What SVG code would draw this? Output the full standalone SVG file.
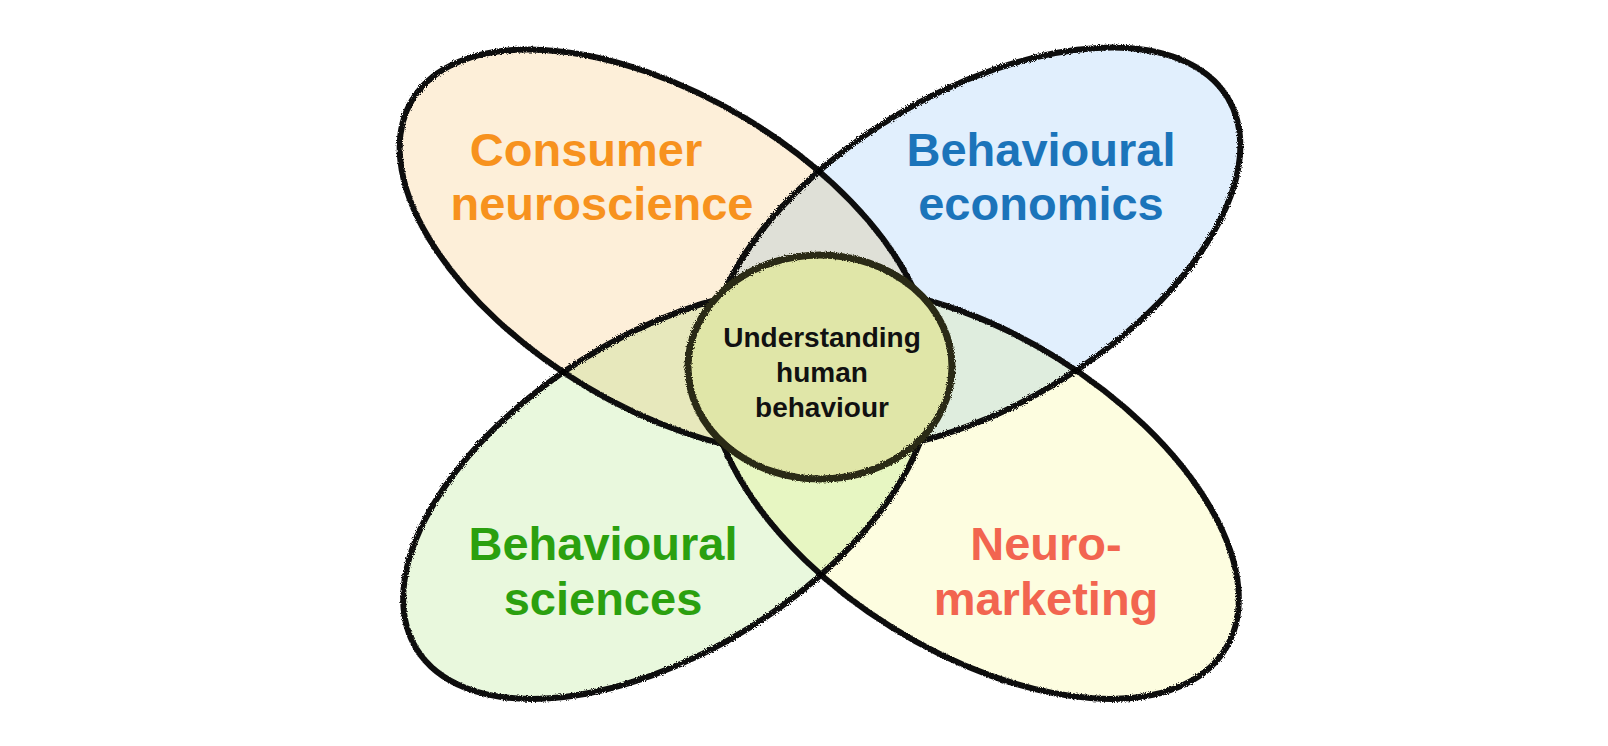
<svg xmlns="http://www.w3.org/2000/svg" width="1608" height="746" viewBox="0 0 1608 746">
<defs>
<filter id="rough" x="-5%" y="-5%" width="110%" height="110%">
<feTurbulence type="fractalNoise" baseFrequency="0.9" numOctaves="2" seed="3"/>
<feDisplacementMap in="SourceGraphic" scale="3.5"/>
</filter>
</defs>
<style>
.e{stroke:#111;stroke-width:6;mix-blend-mode:multiply}
.t{font-family:"Liberation Sans",Arial,sans-serif;font-weight:bold;text-anchor:middle}
.big{font-size:47px}
.small{font-size:28px;fill:#111}
</style>
<rect width="1608" height="746" fill="#fff"/>
<g filter="url(#rough)">
<g id="consumer"><ellipse class="e" cx="665" cy="252" rx="295" ry="156" transform="rotate(31 665 252)" fill="#fdefd9"/></g>
<g id="economics"><ellipse class="e" cx="975" cy="250" rx="295" ry="156" transform="rotate(-31 975 250)" fill="#e1effd"/></g>
<g id="sciences"><ellipse class="e" cx="667" cy="493" rx="295" ry="158" transform="rotate(-32 667 493)" fill="#e9f8dd"/></g>
<g id="neuromarketing"><ellipse class="e" cx="975" cy="493" rx="295" ry="158" transform="rotate(32 975 493)" fill="#fdfde0"/></g>
<g id="center"><ellipse cx="820" cy="367" rx="132" ry="112" fill="#e0e6a8" stroke="#2b2b12" stroke-width="7"/></g>
</g>
<text class="t big" x="586" y="166" fill="#f7921e">Consumer</text>
<text class="t big" x="602" y="220" fill="#f7921e">neuroscience</text>
<text class="t big" x="1041" y="166" fill="#1b74ba">Behavioural</text>
<text class="t big" x="1041" y="220" fill="#1b74ba">economics</text>
<text class="t big" x="603" y="560" fill="#2ba00f">Behavioural</text>
<text class="t big" x="603" y="615" fill="#2ba00f">sciences</text>
<text class="t big" x="1046" y="560" fill="#f26550">Neuro-</text>
<text class="t big" x="1046" y="615" fill="#f26550">marketing</text>
<text class="t small" x="822" y="347">Understanding</text>
<text class="t small" x="822" y="382">human</text>
<text class="t small" x="822" y="417">behaviour</text>
</svg>
